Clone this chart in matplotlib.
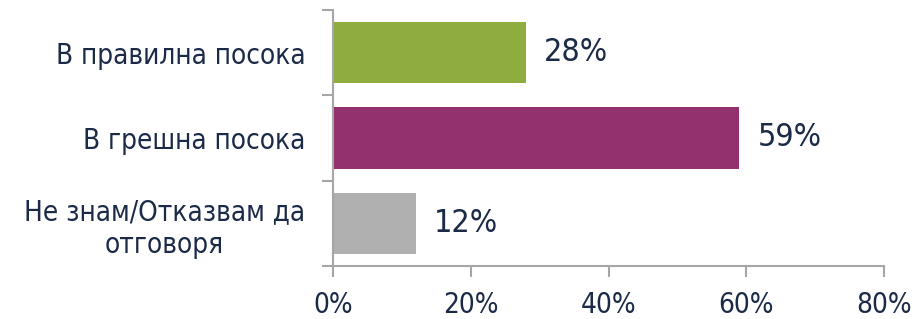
import matplotlib.pyplot as plt
from matplotlib.ticker import FixedLocator

categories = ["В правилна посока", "В грешна посока", "Не знам/Отказвам да\nотговоря"]
values = [28, 59, 12]
bar_colors = ["#8fad3f", "#93316e", "#b0b0b0"]
xticks = [0, 20, 40, 60, 80]

TEXT = "#1b2a47"
AXIS = "#a6a6a6"

plt.rcParams["font.family"] = ["DejaVu Sans"]
plt.rcParams["font.stretch"] = "condensed"

fig = plt.figure(figsize=(9.13, 3.19), dpi=100)
ax = fig.add_axes([333 / 913, 53 / 319, 551 / 913, 256 / 319])

y = list(range(len(categories)))
ax.barh(y, values, height=0.72, color=bar_colors)
ax.set_xlim(0, 80)
ax.set_ylim(len(categories) - 0.5, -0.5)

for yi, v in zip(y, values):
    ax.text(v + 2.6, yi, f"{v}%", va="center", ha="left", fontsize=23, color=TEXT)

ax.set_yticks(y)
ax.set_yticklabels(categories, fontsize=20, color=TEXT, multialignment="center")
ax.tick_params(axis="y", which="major", length=0, pad=20)
ax.yaxis.set_minor_locator(FixedLocator([-0.5, 0.5, 1.5, 2.5]))
ax.tick_params(axis="y", which="minor", length=8, width=1.5, color=AXIS)

ax.set_xticks(xticks)
ax.set_xticklabels([f"{t}%" for t in xticks], fontsize=20, color=TEXT)
ax.tick_params(axis="x", length=8, width=1.5, color=AXIS, pad=10)

for s in ["top", "right"]:
    ax.spines[s].set_visible(False)
for s in ["left", "bottom"]:
    ax.spines[s].set_color(AXIS)
    ax.spines[s].set_linewidth(1.5)

fig.savefig("out.png", dpi=100)
